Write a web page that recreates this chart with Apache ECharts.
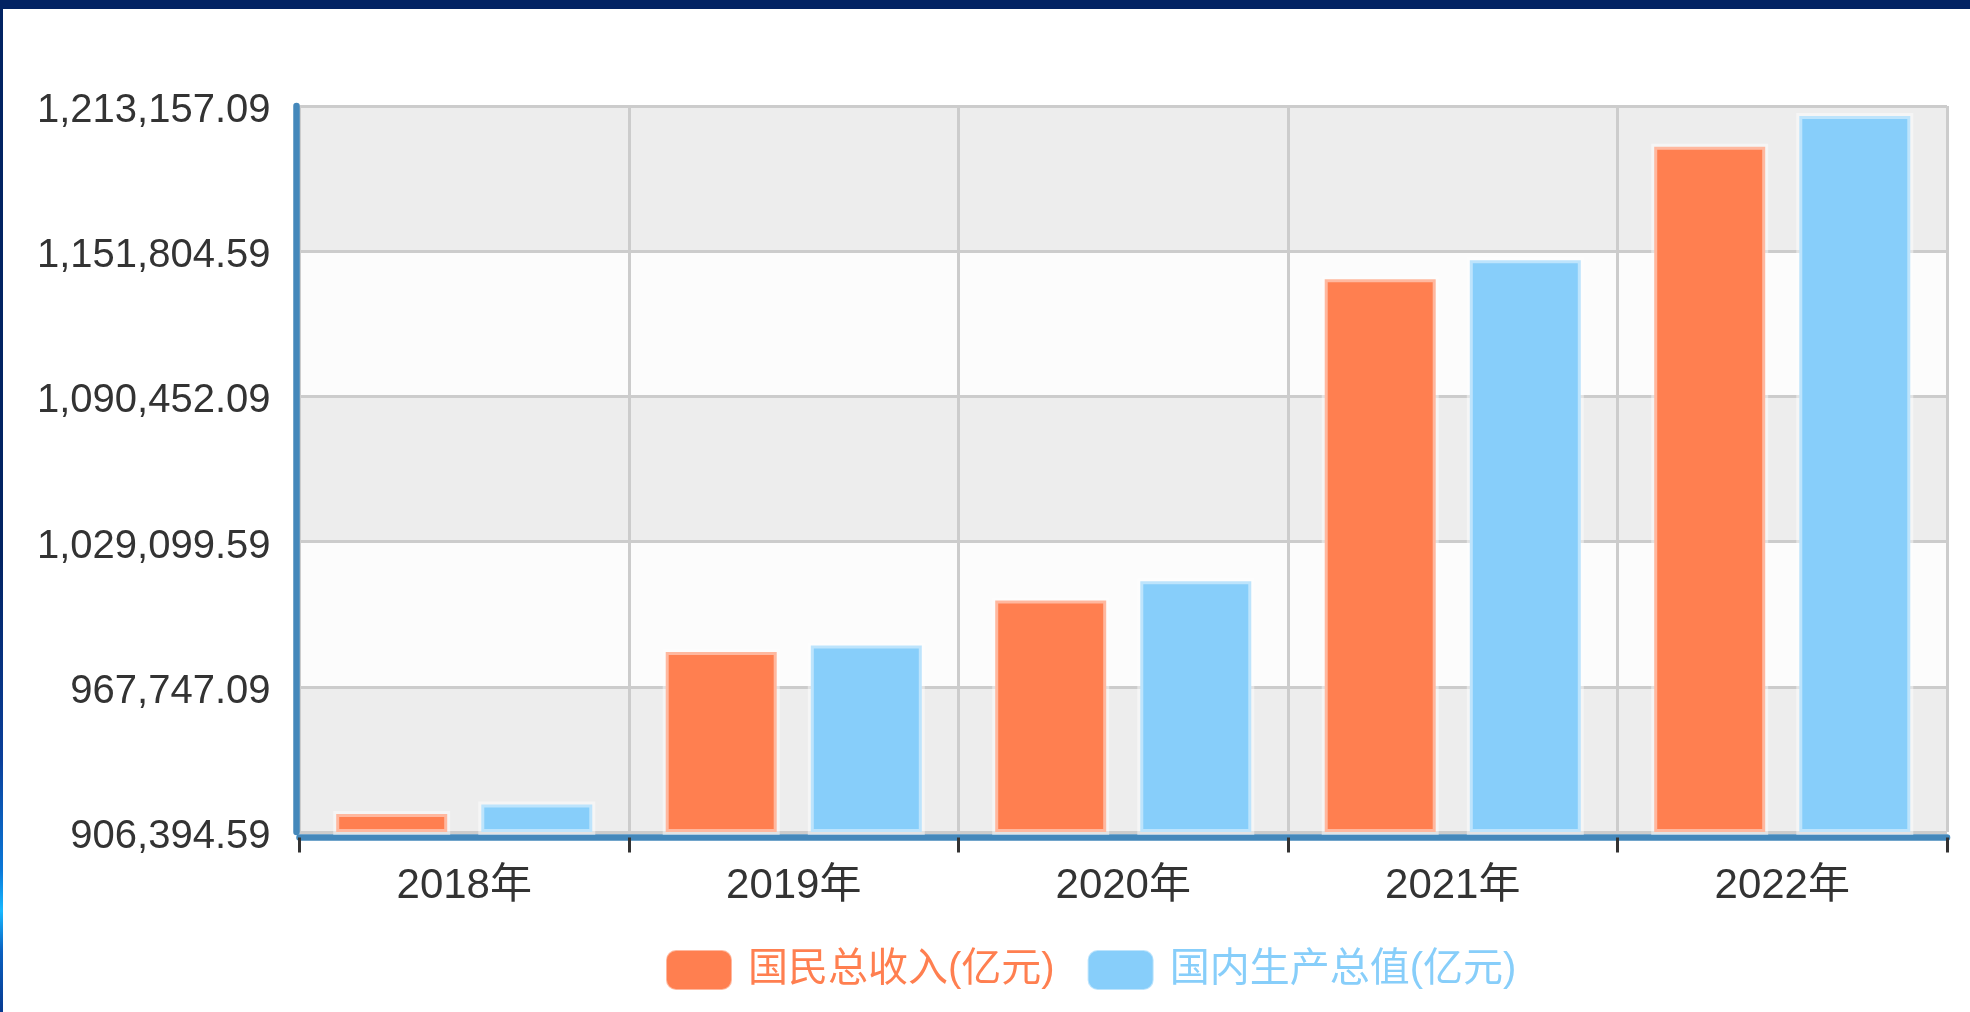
<!DOCTYPE html>
<html>
<head>
<meta charset="utf-8">
<script src="https://cdn.jsdelivr.net/npm/echarts@6.0.0/dist/echarts.min.js"></script>
<style>
  html, body { margin: 0; padding: 0; width: 1970px; height: 1012px; overflow: hidden; }
  body { background: #022363; position: relative; }
  #strip { position: absolute; left: 0; top: 0; width: 3px; height: 1012px;
    background: linear-gradient(to bottom, #022363 0%, #022363 55%, #0a3f9a 75%, #0a78d8 86%, #18b8ff 90%, #0a60c0 94%, #083a90 100%); }
  #bg { position: absolute; left: 3px; top: 9px; right: 0; bottom: 0; background: #ffffff; }
  #chart { position: absolute; left: 0; top: 0; width: 1970px; height: 1012px; }
</style>
</head>
<body>
<div id="strip"></div>
<div id="bg"></div>
<div id="chart"></div>
<script>
const categories = ['2018年', '2019年', '2020年', '2021年', '2022年'];
const seriesNames = ['国民总收入(亿元)', '国内生产总值(亿元)'];
const gni = [915243.5, 983751.2, 1005451.3, 1141230.8, 1197215.0];
const gdp = [919281.1, 986515.2, 1013567.0, 1149237.0, 1210207.2];
const yTickLabels = ['906,394.59', '967,747.09', '1,029,099.59', '1,090,452.09', '1,151,804.59', '1,213,157.09'];
const yMin = 906394.59;
const yMax = 1213157.09;
const yInterval = 61352.5;

const FONT = '"Liberation Sans", Arial, "Noto Sans CJK SC", sans-serif';
const chart = echarts.init(document.getElementById('chart'), null, { renderer: 'canvas' });

chart.setOption({
  animation: false,
  backgroundColor: 'transparent',
  color: ['#ff7f50', '#87cefa'],
  textStyle: { fontFamily: FONT },
  grid: { left: 299.5, right: 23, top: 106, bottom: 180, containLabel: false },
  legend: {
    left: 660,
    top: 944,
    itemWidth: 66,
    itemHeight: 40,
    itemGap: 32,
    icon: 'roundRect',
    textStyle: { fontSize: 40, fontFamily: FONT, padding: [0, 0, 0, 11] },
    data: [
      { name: seriesNames[0], textStyle: { color: '#ff7f50' } },
      { name: seriesNames[1], textStyle: { color: '#87cefa' } }
    ]
  },
  xAxis: {
    type: 'category',
    data: categories,
    offset: 5.5,
    boundaryGap: true,
    axisLine: { show: true, lineStyle: { color: '#4488bb', width: 6.5 } },
    axisTick: { show: true, length: 15, lineStyle: { color: '#333333', width: 3 } },
    axisLabel: { color: '#333333', fontSize: 42, margin: 28, fontFamily: FONT },
    splitLine: { show: true, lineStyle: { color: '#cccccc', width: 3 } }
  },
  yAxis: {
    type: 'value',
    min: yMin,
    max: yMax,
    interval: yInterval,
    offset: 3,
    axisLine: { show: true, lineStyle: { color: '#4488bb', width: 6.5 } },
    axisTick: { show: false },
    axisLabel: {
      color: '#333333', fontSize: 40, margin: 26, fontFamily: FONT,
      verticalAlign: 'top', lineHeight: 10,
      formatter: function (v, i) {
        return (yTickLabels[i] !== undefined) ? yTickLabels[i]
          : v.toLocaleString('en-US', { minimumFractionDigits: 2, maximumFractionDigits: 2 });
      }
    },
    splitLine: { show: true, lineStyle: { color: '#cccccc', width: 3 } },
    splitArea: { show: true, areaStyle: { color: ['#ededed', '#fcfcfc'] } }
  },
  series: [
    {
      name: seriesNames[0], type: 'bar', data: gni, barWidth: 117, barGap: '24%',
      itemStyle: { color: '#ff7f50', borderColor: 'rgba(255,255,255,0.45)', borderWidth: 6 }
    },
    {
      name: seriesNames[1], type: 'bar', data: gdp, barWidth: 117, barGap: '24%',
      itemStyle: { color: '#87cefa', borderColor: 'rgba(255,255,255,0.45)', borderWidth: 6 }
    }
  ]
});
</script>
</body>
</html>
